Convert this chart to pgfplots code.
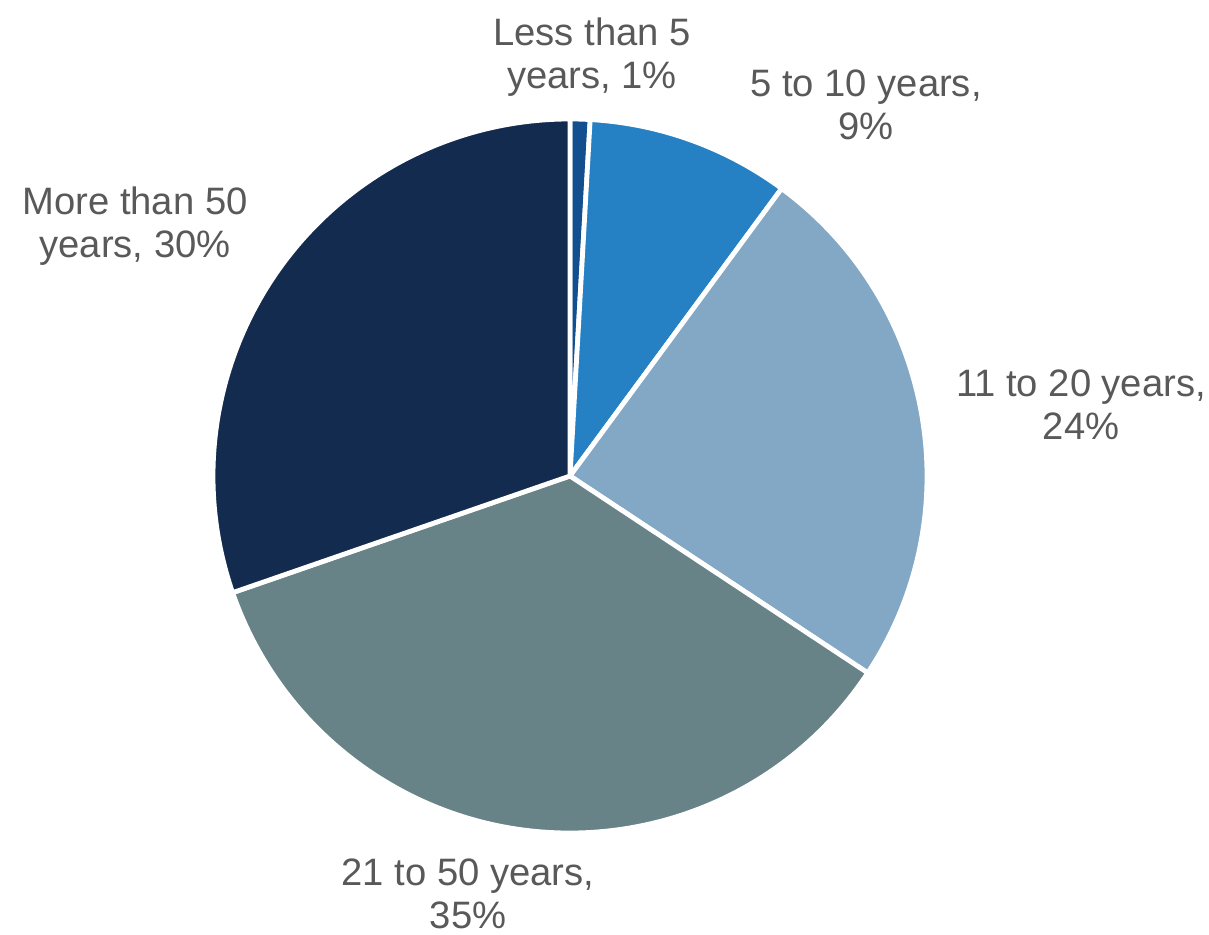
\documentclass[border=0pt]{standalone}
\usepackage{pgfplots}
\usepackage{pgfplotstable}
\pgfplotsset{compat=1.18}
\usepackage{fontspec}
\setmainfont{Liberation Sans}
\definecolor{cA}{HTML}{134E8E}
\definecolor{cB}{HTML}{2581C4}
\definecolor{cC}{HTML}{82A8C5}
\definecolor{cD}{HTML}{678387}
\definecolor{cE}{HTML}{142B50}
\definecolor{lbl}{HTML}{595959}
\pgfplotstableread[col sep=semicolon]{
label;value;color
Less than 5 years;0.9;cA
5 to 10 years;9.2;cB
11 to 20 years;24.2;cC
21 to 50 years;35.4;cD
More than 50 years;30.3;cE
}\pietable
\begin{document}
\begin{tikzpicture}
\begin{axis}[
  scale only axis, width=604.5pt, height=467.5pt,
  xmin=0, xmax=1209, ymin=0, ymax=935,
  hide axis, clip=false,
]
\pgfplotsextra{
  \path (axis cs:0,0) rectangle (axis cs:1209,935);
  \gdef\cum{0}
  \foreach \i in {0,...,4}{
    \pgfplotstablegetelem{\i}{value}\of{\pietable}\let\v\pgfplotsretval
    \pgfplotstablegetelem{\i}{color}\of{\pietable}\let\c\pgfplotsretval
    \pgfmathsetmacro\a{90-3.6*\cum}
    \pgfmathsetmacro\b{90-3.6*(\cum+\v)}
    \fill[fill=\c, draw=white, line width=2.4pt, line join=round]
      (axis cs:570,459) -- +(\a:178.5pt) arc[start angle=\a, end angle=\b, radius=178.5pt] -- cycle;
    \pgfmathsetmacro\newcum{\cum+\v}\xdef\cum{\newcum}
  }
}
\begin{scope}[every node/.style={align=center, inner sep=0pt, text=lbl, font=\fontsize{19.1pt}{21.7pt}\selectfont}]
\node at (axis cs:592,878) {Less than 5\\years, 1\%};
\node at (axis cs:866,830) {5 to 10 years,\\9\%};
\node at (axis cs:135,709) {More than 50\\years, 30\%};
\node at (axis cs:1081,530) {11 to 20 years,\\24\%};
\node at (axis cs:468,41) {21 to 50 years,\\35\%};
\end{scope}
\end{axis}
\end{tikzpicture}
\end{document}
